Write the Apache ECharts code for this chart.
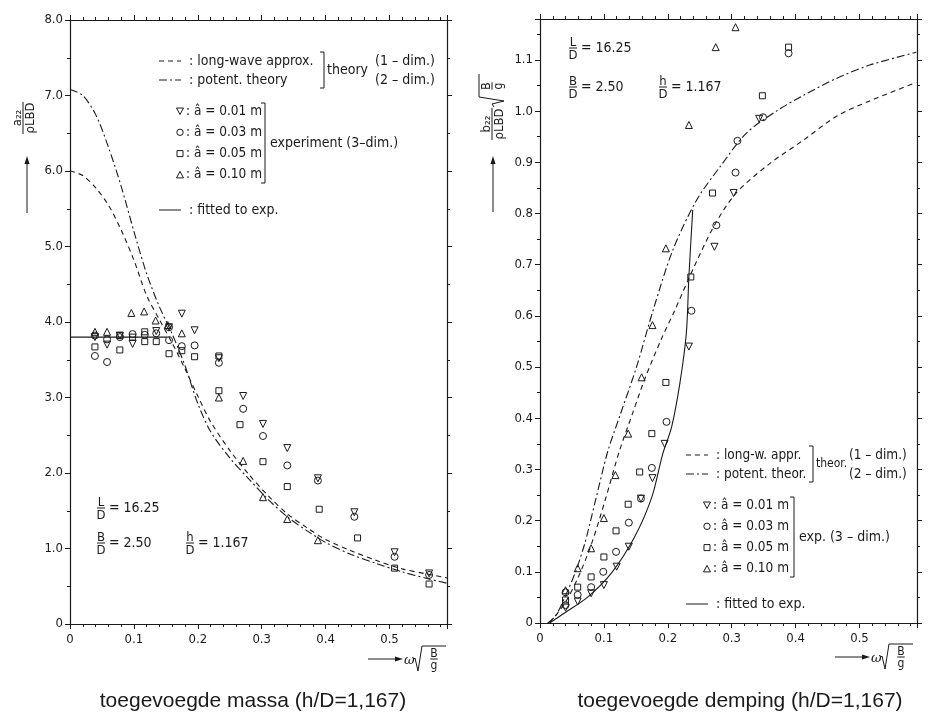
<!DOCTYPE html>
<html>
<head>
<meta charset="utf-8">
<script src="https://cdn.jsdelivr.net/npm/echarts@6/dist/echarts.min.js"></script>
<style>html,body{margin:0;background:#fff}#chart{width:933px;height:717px}</style>
</head>
<body>
<div id="chart"></div>
<script>
// values (x = omega*sqrt(B/g))
const xTicks = [0, 0.1, 0.2, 0.3, 0.4, 0.5];
const massTicks = [0, 1, 2, 3, 4, 5, 6, 7, 8];
const dampTicks = [0, 0.1, 0.2, 0.3, 0.4, 0.5, 0.6, 0.7, 0.8, 0.9, 1.0, 1.1];

// added mass a22/(rho L B D)
const massLongWave = [[0,6.0],[0.02,5.94],[0.04,5.78],[0.06,5.55],[0.08,5.22],[0.1,4.82],[0.12,4.35],[0.14,4.03],[0.16,3.72],[0.18,3.38],[0.2,3.02],[0.22,2.68],[0.25,2.3],[0.28,1.98],[0.31,1.7],[0.34,1.46],[0.37,1.28],[0.4,1.12],[0.44,0.97],[0.48,0.84],[0.52,0.73],[0.56,0.66],[0.59,0.61]];
const massPotential = [[0,7.08],[0.02,7.0],[0.04,6.75],[0.06,6.32],[0.08,5.8],[0.1,5.2],[0.12,4.64],[0.14,4.2],[0.16,3.84],[0.18,3.42],[0.2,2.92],[0.22,2.55],[0.25,2.2],[0.28,1.92],[0.31,1.65],[0.34,1.42],[0.37,1.24],[0.4,1.08],[0.44,0.92],[0.48,0.8],[0.52,0.69],[0.56,0.6],[0.59,0.54]];
const massFitted = [[0,3.8],[0.152,3.8]];
const massA001 = [[0.039,3.8],[0.058,3.7],[0.078,3.82],[0.098,3.71],[0.135,3.88],[0.155,3.93],[0.175,4.11],[0.195,3.89],[0.233,3.52],[0.271,3.02],[0.302,2.65],[0.34,2.33],[0.388,1.93],[0.445,1.48],[0.508,0.95],[0.562,0.67]];
const massA003 = [[0.039,3.82],[0.039,3.55],[0.058,3.77],[0.058,3.47],[0.078,3.8],[0.098,3.84],[0.117,3.83],[0.135,3.85],[0.155,3.93],[0.155,3.76],[0.175,3.68],[0.195,3.69],[0.233,3.46],[0.271,2.85],[0.302,2.49],[0.34,2.1],[0.388,1.9],[0.445,1.42],[0.508,0.89],[0.562,0.65]];
const massA005 = [[0.039,3.67],[0.078,3.63],[0.078,3.82],[0.098,3.8],[0.117,3.87],[0.117,3.74],[0.135,3.74],[0.155,3.58],[0.175,3.62],[0.195,3.54],[0.233,3.55],[0.233,3.09],[0.266,2.64],[0.302,2.15],[0.34,1.82],[0.39,1.52],[0.45,1.14],[0.508,0.74],[0.562,0.53]];
const massA010 = [[0.039,3.87],[0.058,3.87],[0.096,4.12],[0.116,4.14],[0.134,4.02],[0.153,3.96],[0.175,3.85],[0.233,3.0],[0.271,2.16],[0.302,1.68],[0.34,1.39],[0.388,1.11]];

// added damping b22/(rho L B D) * sqrt(B/g)
const dampLongWave = [[0.015,0],[0.039,0.039],[0.06,0.09],[0.081,0.156],[0.102,0.24],[0.124,0.335],[0.145,0.41],[0.165,0.48],[0.19,0.555],[0.211,0.611],[0.239,0.69],[0.273,0.777],[0.307,0.84],[0.36,0.898],[0.412,0.943],[0.464,0.99],[0.516,1.02],[0.589,1.056]];
const dampPotential = [[0.012,0],[0.025,0.015],[0.039,0.051],[0.055,0.098],[0.07,0.155],[0.086,0.235],[0.106,0.335],[0.125,0.405],[0.151,0.5],[0.177,0.611],[0.208,0.729],[0.245,0.826],[0.281,0.89],[0.323,0.957],[0.37,1.0],[0.411,1.03],[0.464,1.064],[0.516,1.09],[0.589,1.115]];
const dampFitted = [[0.015,0],[0.039,0.02],[0.075,0.051],[0.112,0.098],[0.148,0.168],[0.175,0.246],[0.192,0.33],[0.206,0.383],[0.219,0.469],[0.229,0.566],[0.233,0.676],[0.239,0.807]];
const dampA001 = [[0.04,0.03],[0.059,0.042],[0.08,0.058],[0.1,0.074],[0.12,0.11],[0.139,0.149],[0.158,0.243],[0.176,0.283],[0.195,0.35],[0.233,0.54],[0.273,0.735],[0.303,0.84],[0.343,0.985]];
const dampA003 = [[0.04,0.035],[0.04,0.06],[0.059,0.055],[0.08,0.07],[0.099,0.1],[0.119,0.139],[0.139,0.196],[0.158,0.243],[0.175,0.303],[0.198,0.393],[0.237,0.61],[0.276,0.777],[0.306,0.88],[0.309,0.942],[0.349,0.988],[0.389,1.113]];
const dampA005 = [[0.04,0.045],[0.059,0.07],[0.08,0.09],[0.1,0.129],[0.119,0.18],[0.138,0.232],[0.156,0.295],[0.175,0.37],[0.197,0.47],[0.236,0.676],[0.27,0.84],[0.348,1.03],[0.389,1.125]];
const dampA010 = [[0.04,0.064],[0.059,0.107],[0.08,0.146],[0.1,0.205],[0.118,0.289],[0.138,0.37],[0.159,0.48],[0.176,0.582],[0.197,0.732],[0.233,0.973],[0.275,1.125],[0.306,1.164]];

const ink = '#1a1a1a';
const FONT = '"DejaVu Sans Condensed","DejaVu Sans",sans-serif';
const CAPTION = '"Liberation Sans",Arial,sans-serif';
const DASH = [5, 4];
const DASHDOT = [8, 3, 2, 3];

// ---- small drawing helpers for the printed annotations ----
function text(x, y, s, o) {
  o = o || {};
  return {
    type: 'text', x: x, y: y, silent: true,
    style: {
      text: s, fill: ink,
      font: (o.weight || '') + ' ' + (o.size || 14) + 'px ' + (o.family || FONT),
      align: o.align || 'left', verticalAlign: o.valign || 'middle'
    }
  };
}
function seg(pts, dash) {
  return { type: 'polyline', silent: true, shape: { points: pts },
    style: { stroke: ink, lineWidth: 1, fill: null, lineDash: dash || null } };
}
function frac(cx, cy, num, den, size) {
  const w = Math.max(num.length, den.length) * size * 0.62;
  return [
    text(cx, cy + 1, num, { size: size, align: 'center', valign: 'bottom' }),
    seg([[cx - w / 2, cy], [cx + w / 2, cy]]),
    text(cx, cy + 1, den, { size: size, align: 'center', valign: 'top' })
  ];
}
function mark(kind, x, y) {
  const s = { stroke: ink, fill: null, lineWidth: 1 };
  if (kind === 'circle') return { type: 'circle', shape: { cx: x, cy: y, r: 3.2 }, style: s };
  if (kind === 'rect') return { type: 'rect', shape: { x: x - 3, y: y - 3, width: 6, height: 6 }, style: s };
  if (kind === 'up') return { type: 'polygon', shape: { points: [[x, y - 3.5], [x + 3.5, y + 3], [x - 3.5, y + 3]] }, style: s };
  return { type: 'polygon', shape: { points: [[x, y + 3.5], [x + 3.5, y - 3], [x - 3.5, y - 3]] }, style: s };
}
function bracket(x, y1, y2) { return seg([[x - 4, y1], [x, y1], [x, y2], [x - 4, y2]]); }
function freqTitle(x0, y) {
  return [
    seg([[x0, y], [x0 + 28, y]]),
    { type: 'polygon', silent: true, shape: { points: [[x0 + 35, y], [x0 + 27, y - 2.5], [x0 + 27, y + 2.5]] }, style: { fill: ink } },
    text(x0 + 36, y + 2, 'ω', { size: 13, weight: 'italic', family: '"DejaVu Serif",serif' }),
    seg([[x0 + 45, y + 1], [x0 + 47, y - 1], [x0 + 50, y + 12], [x0 + 54, y - 13], [x0 + 78, y - 13]]),
    ...frac(x0 + 66, y, 'B', 'g', 12)
  ];
}
function arrowUp(x, y1, y2) {
  return [
    seg([[x, y1], [x, y2 + 6]]),
    { type: 'polygon', silent: true, shape: { points: [[x, y2], [x - 2.5, y2 + 8], [x + 2.5, y2 + 8]] }, style: { fill: ink } }
  ];
}
function legendBlock(x, y, lab) {
  // x: start of line samples, y: first row
  const els = [];
  const fs = lab.size || 14;
  els.push(seg([[x, y], [x + 22, y]], DASH));
  els.push(text(x + 30, y, lab.lw, { size: fs }));
  els.push(seg([[x, y + 19], [x + 22, y + 19]], DASHDOT));
  els.push(text(x + 30, y + 19, lab.pt, { size: fs }));
  els.push(bracket(lab.b1, y - 9, y + 27));
  els.push(text(lab.b1 + 3, y + 9, lab.theory, { size: lab.theorySize || 14 }));
  els.push(text(lab.dimX, y, '(1 – dim.)', { size: fs }));
  els.push(text(lab.dimX, y + 19, '(2 – dim.)', { size: fs }));
  const kinds = ['down', 'circle', 'rect', 'up'];
  const amps = ['0.01', '0.03', '0.05', '0.10'];
  for (let i = 0; i < 4; i++) {
    const ry = lab.symY + i * 21.3;
    els.push(mark(kinds[i], lab.symX, ry));
    els.push(text(lab.symX + 6, ry, ': â = ' + amps[i] + ' m', { size: 13.5 }));
  }
  els.push(bracket(lab.b2, lab.symY - 8, lab.symY + 72));
  els.push(text(lab.b2 + 5, lab.symY + 32, lab.exp));
  els.push(seg([[x, lab.fitY], [x + 22, lab.fitY]]));
  els.push(text(x + 30, lab.fitY, ': fitted to exp.'));
  return els;
}
function ratios(x, yL, yB, xh) {
  return [
    ...frac(x, yL, 'L', 'D', 13), text(x + 8, yL, '= 16.25'),
    ...frac(x, yB, 'B', 'D', 13), text(x + 8, yB, '= 2.50'),
    ...frac(xh, yB, 'h', 'D', 13), text(xh + 8, yB, '= 1.167')
  ];
}

const graphics = [
  // left panel
  ...legendBlock(159, 61, { lw: ': long-wave approx.', pt: ': potent. theory', theory: 'theory', b1: 324, dimX: 375,
    symX: 180, symY: 111, b2: 265, exp: 'experiment (3–dim.)', fitY: 210 }),
  ...ratios(101, 508, 543, 190),
  { type: 'group', x: 23, y: 118, rotation: Math.PI / 2, children: frac(0, 0, 'a₂₂', 'ρLBD', 13) },
  ...arrowUp(27, 213, 156),
  ...freqTitle(368, 659),
  text(253, 701, 'toegevoegde massa (h/D=1,167)', { size: 21, align: 'center', family: CAPTION }),
  // right panel
  ...legendBlock(686, 455, { lw: ': long-w. appr.', pt: ': potent. theor.', theory: 'theor.', theorySize: 12, size: 13.5,
    b1: 813, dimX: 849, symX: 707, symY: 505, b2: 794, exp: 'exp. (3 – dim.)', fitY: 604 }),
  ...ratios(573, 48, 87, 663),
  { type: 'group', x: 492, y: 124, rotation: Math.PI / 2, children: [
    ...frac(0, 0, 'b₂₂', 'ρLBD', 13),
    seg([[17, 2], [20, 0], [23, 12], [27, -13], [50, -13]]),
    ...frac(38, 0, 'B', 'g', 12)
  ] },
  ...arrowUp(493, 212, 156),
  ...freqTitle(835, 657),
  text(740, 701, 'toegevoegde demping (h/D=1,167)', { size: 21, align: 'center', family: CAPTION })
];

// ---- axes ----
function fmt(list, digits) {
  return function (v) {
    for (const t of list) if (Math.abs(t - v) < 1e-6) return t === 0 ? '0' : t.toFixed(digits);
    return '';
  };
}
function xAxis(grid, pos) {
  return {
    type: 'value', gridIndex: grid, position: pos, min: 0, max: 0.59, interval: 0.1,
    axisLine: { onZero: false, lineStyle: { color: ink, width: 1.2 } },
    axisTick: { length: 5, lineStyle: { color: ink } },
    minorTick: { show: true, splitNumber: 5, length: 3, lineStyle: { color: ink } },
    splitLine: { show: false },
    axisLabel: { show: pos === 'bottom', margin: 9, color: ink, fontSize: 13, fontFamily: FONT, formatter: fmt(xTicks, 1) }
  };
}
function yAxis(grid, pos, max, interval, ticks) {
  return {
    type: 'value', gridIndex: grid, position: pos, min: 0, max: max, interval: interval,
    axisLine: { show: true, onZero: false, lineStyle: { color: ink, width: 1.2 } },
    axisTick: { show: true, length: 5, lineStyle: { color: ink } },
    minorTick: { show: true, splitNumber: 2, length: 3, lineStyle: { color: ink } },
    splitLine: { show: false },
    axisLabel: { show: pos === 'left', margin: 7, color: ink, fontSize: 13, fontFamily: FONT, formatter: fmt(ticks, 1) }
  };
}

function curve(data, axis, dash, smooth) {
  return { type: 'line', xAxisIndex: axis * 2, yAxisIndex: axis * 2, data: data, showSymbol: false, silent: true,
    smooth: smooth, lineStyle: { color: ink, width: 1.1, type: dash } };
}
function points(data, axis, symbol, rotate, size) {
  return { type: 'scatter', xAxisIndex: axis * 2, yAxisIndex: axis * 2, data: data, silent: true,
    symbol: symbol, symbolRotate: rotate, symbolSize: size,
    itemStyle: { color: 'rgba(0,0,0,0)', borderColor: ink, borderWidth: 1, opacity: 1 } };
}

const chart = echarts.init(document.getElementById('chart'), null, { renderer: 'canvas' });
chart.setOption({
  animation: false,
  backgroundColor: '#fff',
  grid: [
    { left: 70, top: 20, width: 377, height: 604 },
    { left: 540, top: 19, width: 377, height: 604 }
  ],
  xAxis: [xAxis(0, 'bottom'), xAxis(0, 'top'), xAxis(1, 'bottom'), xAxis(1, 'top')],
  yAxis: [
    yAxis(0, 'left', 8, 1, massTicks), yAxis(0, 'right', 8, 1, massTicks),
    yAxis(1, 'left', 1.18, 0.1, dampTicks), yAxis(1, 'right', 1.18, 0.1, dampTicks)
  ],
  series: [
    curve(massLongWave, 0, DASH, 0.3),
    curve(massPotential, 0, DASHDOT, 0.3),
    curve(massFitted, 0, 'solid', false),
    points(massA001, 0, 'triangle', 180, 7),
    points(massA003, 0, 'circle', 0, 7),
    points(massA005, 0, 'rect', 0, 6),
    points(massA010, 0, 'triangle', 0, 7),
    curve(dampLongWave, 1, DASH, 0.3),
    curve(dampPotential, 1, DASHDOT, 0.3),
    curve(dampFitted, 1, 'solid', 0.3),
    points(dampA001, 1, 'triangle', 180, 7),
    points(dampA003, 1, 'circle', 0, 7),
    points(dampA005, 1, 'rect', 0, 6),
    points(dampA010, 1, 'triangle', 0, 7)
  ],
  graphic: graphics
});
</script>
</body>
</html>
